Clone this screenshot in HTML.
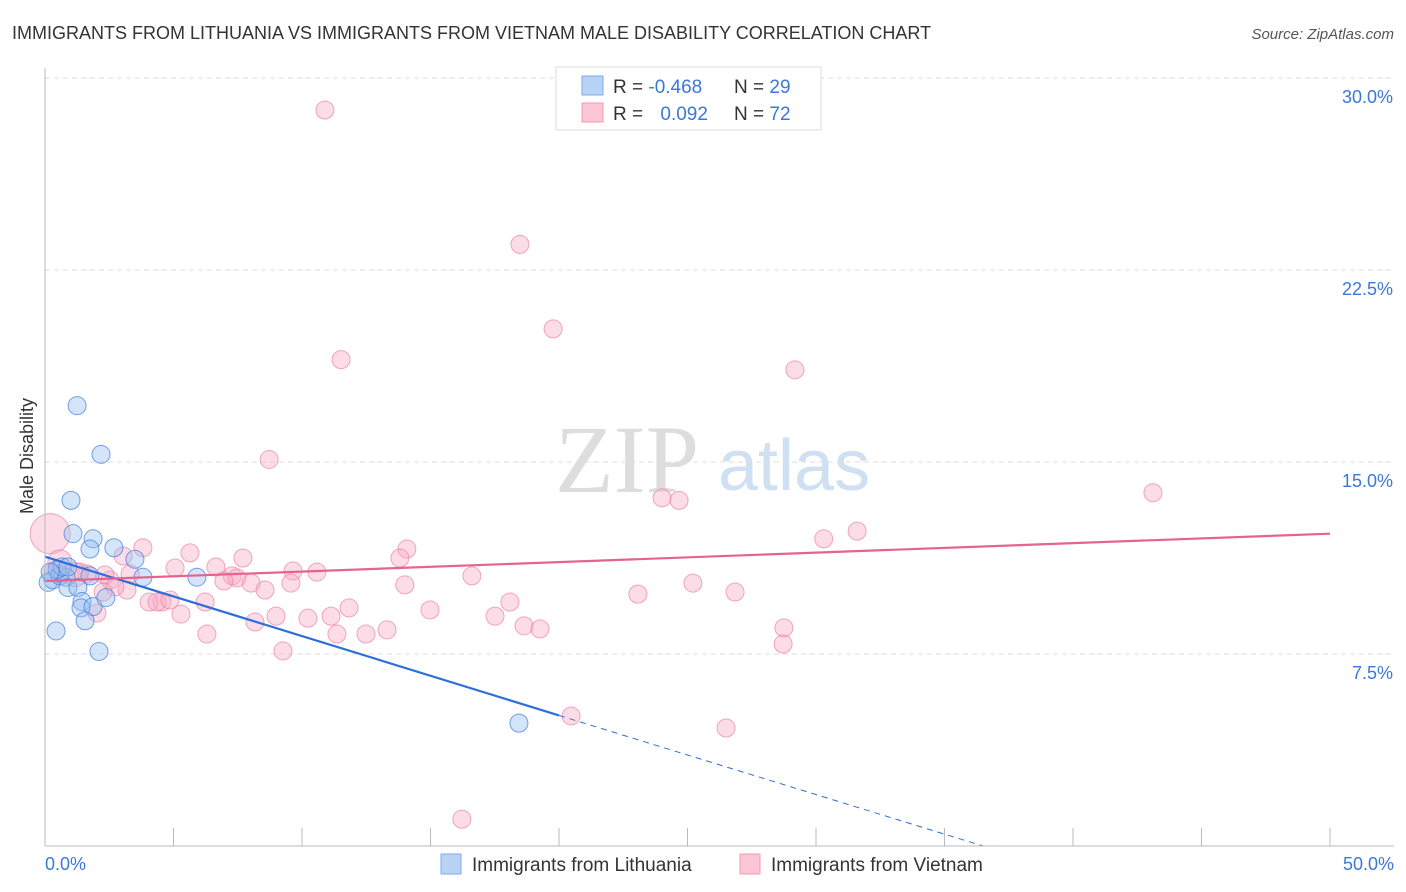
<!DOCTYPE html>
<html><head><meta charset="utf-8"><style>
body{margin:0;background:#fff;font-family:"Liberation Sans",sans-serif;}
#wrap{position:relative;width:1406px;height:892px;overflow:hidden;}
</style></head><body>
<div id="wrap">
<svg id="svg" width="1406" height="892" xmlns="http://www.w3.org/2000/svg" font-family="Liberation Sans, sans-serif">
<text x="12" y="39" font-size="18" fill="#333">IMMIGRANTS FROM LITHUANIA VS IMMIGRANTS FROM VIETNAM MALE DISABILITY CORRELATION CHART</text>
<text x="1394" y="39" font-size="15" fill="#555" font-style="italic" text-anchor="end">Source: ZipAtlas.com</text>
<text x="33" y="456" font-size="18" fill="#333" text-anchor="middle" transform="rotate(-90 33 456)">Male Disability</text>
<text x="555" y="492" font-size="96" fill="#ddd" font-family="Liberation Serif, serif">ZIP</text>
<text x="718" y="490" font-size="72" fill="#cfe0f3">atlas</text>
<g id="grid"></g><g id="pts"></g><g id="lines"></g>
<line x1="45" y1="68" x2="45" y2="846" stroke="#bbb"/>
<line x1="45" y1="846" x2="1394" y2="846" stroke="#bbb"/>
<text x="45" y="870" font-size="18" fill="#3b78d8">0.0%</text>
<text x="1394" y="870" font-size="18" fill="#3b78d8" text-anchor="end">50.0%</text>
<g>
<rect x="556" y="67" width="265" height="63" fill="#fff" stroke="#ddd"/>
<rect x="582" y="76" width="21" height="19" fill="#b9d3f7" stroke="#7faae8"/>
<rect x="582" y="103" width="21" height="19" fill="#fdc6d5" stroke="#f09ab3"/>
<text x="613" y="93" font-size="19" fill="#333">R = <tspan fill="#3b78d8">-0.468</tspan></text>
<text x="734" y="93" font-size="19" fill="#333">N = <tspan fill="#3b78d8">29</tspan></text>
<text x="613" y="120" font-size="19" fill="#333">R = <tspan fill="#3b78d8" dx="12">0.092</tspan></text>
<text x="734" y="120" font-size="19" fill="#333">N = <tspan fill="#3b78d8">72</tspan></text>
</g>
<g>
<rect x="441" y="854" width="20" height="20" fill="#b9d3f7" stroke="#7faae8"/>
<text x="472" y="871" font-size="19" fill="#333">Immigrants from Lithuania</text>
<rect x="740" y="854" width="20" height="20" fill="#fdc6d5" stroke="#f09ab3"/>
<text x="771" y="871" font-size="19" fill="#333">Immigrants from Vietnam</text>
</g>
</svg></div>
<script>
const yTicks=[7.5,15,22.5,30];
const xTickVals=[0,5,10,15,20,25,30,35,40,45,50];
const blueX=[1.25,2.18,1.01,1.09,1.87,1.75,2.68,3.5,3.81,5.91,0.12,0.31,0.58,0.82,0.47,0.66,0.89,1.75,0.89,1.28,1.44,1.4,1.87,2.37,1.56,0.43,2.1,18.44,0.2];
const blueY=[17.2,15.3,13.5,12.2,12.0,11.6,11.65,11.2,10.5,10.5,10.3,10.4,10.55,10.5,10.8,10.9,10.9,10.55,10.1,10.1,9.55,9.3,9.35,9.7,8.8,8.4,7.6,4.8,10.7];
const pinkX=[10.89,18.48,19.77,11.52,29.18,8.72,24.01,24.67,43.11,31.6,30.3,14.08,13.81,5.64,7.70,3.81,3.04,5.06,6.65,7.28,7.47,6.96,8.02,8.56,9.65,10.58,9.57,16.61,14.0,25.21,26.85,23.07,18.09,14.98,17.51,11.83,10.23,8.99,11.13,8.17,11.36,12.49,13.31,18.64,19.26,28.75,28.72,6.3,9.26,4.55,4.05,4.36,4.86,6.23,5.29,2.02,2.53,3.31,2.33,1.63,1.36,0.58,0.31,3.19,2.72,2.26,20.47,26.5,16.22,0.2,0.58,1.17];
const pinkY=[28.75,23.5,20.2,19.0,18.6,15.1,13.6,13.5,13.8,12.3,12.0,11.6,11.25,11.45,11.25,11.65,11.33,10.86,10.9,10.55,10.47,10.35,10.27,10.0,10.74,10.7,10.27,10.55,10.2,10.27,9.92,9.84,9.53,9.22,8.98,9.3,8.9,8.98,8.98,8.75,8.28,8.28,8.44,8.6,8.48,8.52,7.89,8.28,7.62,9.53,9.53,9.53,9.61,9.53,9.06,9.1,10.39,10.63,10.59,10.63,10.7,10.63,10.7,10.0,10.12,9.92,5.08,4.61,1.05,12.2,11.1,10.6];
const blueFit=[[0,11.3],[20,5.1],[36.5,0]];
const pinkFit=[[0,10.35],[50,12.2]];
const X=v=>45+v*25.7, Y=v=>846-v*25.6;
const NS="http://www.w3.org/2000/svg";
function mk(tag,attrs,parent){const e=document.createElementNS(NS,tag);for(const k in attrs)e.setAttribute(k,attrs[k]);parent.appendChild(e);return e;}
const grid=document.getElementById('grid');
yTicks.forEach(t=>{
 const l=mk('line',{x1:45,x2:1394,y1:Y(t),y2:Y(t),stroke:'#ddd','stroke-dasharray':'5,4'},grid);
 
 
 const tx=mk('text',{x:1393,y:Y(t)+25,'font-size':18,fill:'#3b78d8','text-anchor':'end'},grid);
 tx.textContent=t.toFixed(1)+'%';
 
 
});
xTickVals.forEach(t=>{
 const l=mk('line',{x1:X(t),x2:X(t),y1:828,y2:846,stroke:'#bbb'},grid);
 
 
});
const pts=document.getElementById('pts');
pinkX.forEach((x,i)=>{
 const r=(i==69)?20:(i>=70?12:9);
 const c=mk('circle',{cx:X(x),cy:Y(pinkY[i]),r:r,fill:'rgba(248,170,195,0.4)',stroke:'rgba(236,130,165,0.7)','stroke-width':1},pts);
 
 
});
blueX.forEach((x,i)=>{
 const c=mk('circle',{cx:X(x),cy:Y(blueY[i]),r:9,fill:'rgba(150,190,240,0.4)',stroke:'rgba(70,130,220,0.75)','stroke-width':1},pts);
 
 
});
const lines=document.getElementById('lines');
const b1=mk('line',{x1:X(blueFit[0][0]),y1:Y(blueFit[0][1]),x2:X(blueFit[1][0]),y2:Y(blueFit[1][1]),stroke:'#2d6fd8','stroke-width':2.2},lines);


const b2=mk('line',{x1:X(blueFit[1][0]),y1:Y(blueFit[1][1]),x2:X(blueFit[2][0]),y2:Y(blueFit[2][1]),stroke:'#2d6fd8','stroke-width':1,'stroke-dasharray':'6,5'},lines);


const p1=mk('line',{x1:X(pinkFit[0][0]),y1:Y(pinkFit[0][1]),x2:X(pinkFit[1][0]),y2:Y(pinkFit[1][1]),stroke:'#e4648e','stroke-width':2.2},lines);


</script>
</body></html>
